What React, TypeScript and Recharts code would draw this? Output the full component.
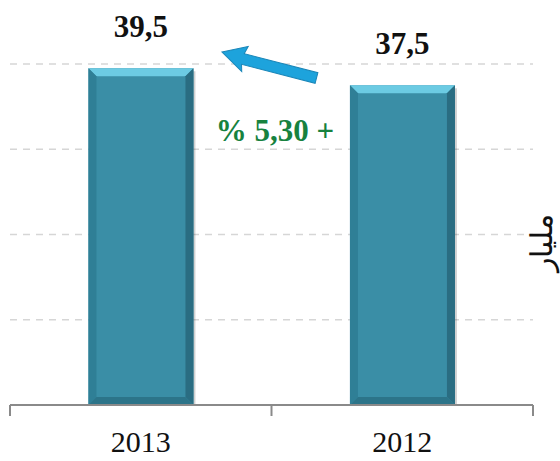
import React from 'react'
import { Bar, BarChart, CartesianGrid, LabelList, XAxis, YAxis } from 'recharts'

const years = ['2013', '2012']
const amounts = [39.5, 37.5]
const yTicks = [0, 10, 20, 30, 40]
const changeLabel = '% 5,30 +'
const sideLabel = 'مليار'

const data = years.map((year, i) => ({ year, amount: amounts[i] }))

const serif = 'Times New Roman, Liberation Serif, Times, serif'

function BevelBar(props: any) {
  const { x, y, width, height } = props
  if (!height || height <= 0) return null
  const b = 8
  return (
    <g>
      <rect x={x + 2} y={y + 3} width={width} height={height - 2} fill="rgba(0,0,0,0.18)" />
      <rect x={x} y={y} width={width} height={height} fill="#3a8ea6" />
      <polygon points={`${x},${y} ${x + width},${y} ${x + width - b},${y + b} ${x + b},${y + b}`} fill="#6ccbe3" />
      <polygon points={`${x},${y} ${x + b},${y + b} ${x + b},${y + height - b} ${x},${y + height}`} fill="#2f7f96" />
      <polygon points={`${x + width},${y} ${x + width},${y + height} ${x + width - b},${y + height - b} ${x + width - b},${y + b}`} fill="#2a6d82" />
      <polygon points={`${x},${y + height} ${x + b},${y + height - b} ${x + width - b},${y + height - b} ${x + width},${y + height}`} fill="#2c7489" />
    </g>
  )
}

function YearTick(props: any) {
  const { x, y, payload, index, width } = props
  const half = payload && payload.offset ? payload.offset : width / years.length / 2
  return (
    <g>
      <line x1={x - half} y1={y} x2={x - half} y2={y + 11} stroke="#8a8a8a" strokeWidth={2} />
      {index === years.length - 1 && (
        <line x1={x + half} y1={y} x2={x + half} y2={y + 11} stroke="#8a8a8a" strokeWidth={2} />
      )}
      <text x={x} y={y + 47} textAnchor="middle" fontFamily={serif} fontSize={30} fill="#111">
        {payload.value}
      </text>
    </g>
  )
}

export default function App() {
  return (
    <div style={{ position: 'absolute', left: 0, top: 0, width: 560, height: 461, background: '#fff', overflow: 'hidden' }}>
      <BarChart width={560} height={461} data={data} margin={{ top: 64, right: 27, bottom: 16, left: 10 }} barCategoryGap="30%">
        <CartesianGrid vertical={false} stroke="#d6d6d6" strokeDasharray="7 6" strokeWidth={1.5} />
        <YAxis hide domain={[0, 40]} ticks={yTicks} />
        <XAxis
          dataKey="year"
          height={40}
          tickLine={false}
          tickSize={0}
          tickMargin={0}
          axisLine={{ stroke: '#8a8a8a', strokeWidth: 2 }}
          tick={<YearTick />}
          interval={0}
        />
        <Bar dataKey="amount" shape={<BevelBar />} isAnimationActive={false}>
          <LabelList
            dataKey="amount"
            position="top"
            offset={31}
            formatter={(v: any) => String(v).replace('.', ',')}
            style={{ fontFamily: serif, fontSize: 31, fontWeight: 'bold', fill: '#111' }}
          />
        </Bar>
      </BarChart>
      <svg width={560} height={461} style={{ position: 'absolute', left: 0, top: 0, pointerEvents: 'none' }}>
        <g transform="translate(222,52) rotate(14.5)">
          <polygon points="0,0 24,-12 22,-4 98,-4 98,7 22,7 24,14" fill="#1da3dc" stroke="#1a86b8" strokeWidth={1} />
        </g>
        <text x={275} y={141} textAnchor="middle" fontFamily={serif} fontSize={31} fontWeight="bold" fill="#17823f">
          {changeLabel}
        </text>
        <text x={0} y={0} transform="translate(552,243) rotate(-90)" textAnchor="middle" fontFamily={serif} fontSize={30} fill="#111">
          {sideLabel}
        </text>
      </svg>
    </div>
  )
}
